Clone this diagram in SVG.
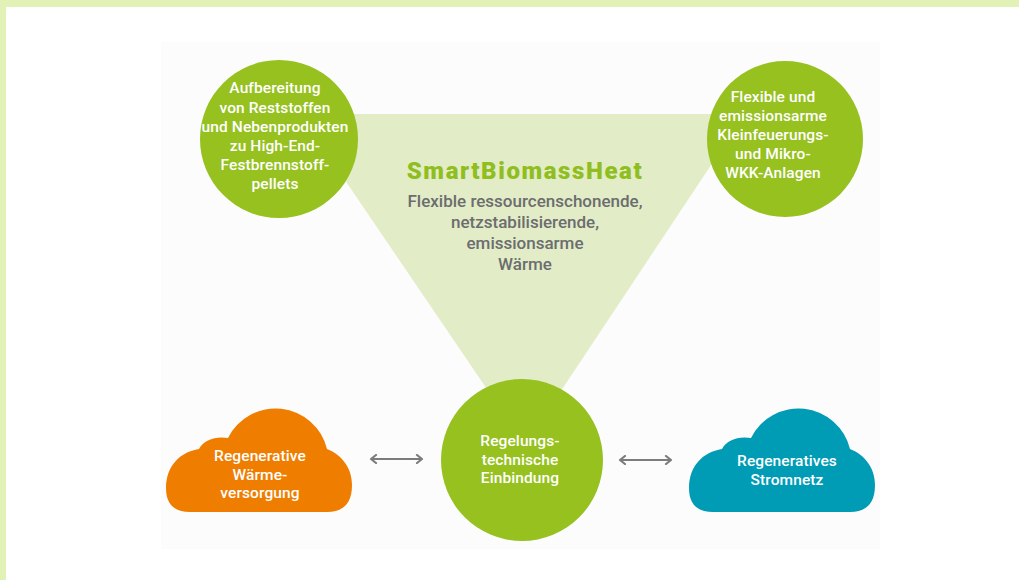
<svg xmlns="http://www.w3.org/2000/svg" width="1019" height="580" viewBox="0 0 1019 580">
  <style>
    .circle { fill: #96c11f; }
    .label { font-family: Roboto, "Liberation Sans", sans-serif; font-weight: 500; font-size: 15.5px; letter-spacing: 0.1px; fill: #ffffff; text-anchor: middle; }
    .title { font-family: Roboto, "Liberation Sans", sans-serif; font-weight: 900; font-size: 24px; letter-spacing: 1.6px; fill: #8fbe1e; text-anchor: middle; }
    .sub { font-family: Roboto, "Liberation Sans", sans-serif; font-weight: 500; font-size: 17px; fill: #6b6d6f; text-anchor: middle; }
    .link { stroke: #7b7c7e; stroke-width: 2.2; fill: none; marker-start: url(#chev-start); marker-end: url(#chev-end); }
  </style>
  <defs>
    <marker id="chev-end" viewBox="0 0 10 10" refX="8" refY="5" markerWidth="10" markerHeight="10" markerUnits="userSpaceOnUse" orient="auto">
      <path d="M 3 1 L 8 5 L 3 9" fill="none" stroke="#7b7c7e" stroke-width="2.2" stroke-linecap="round" stroke-linejoin="round"/>
    </marker>
    <marker id="chev-start" viewBox="0 0 10 10" refX="2" refY="5" markerWidth="10" markerHeight="10" markerUnits="userSpaceOnUse" orient="auto">
      <path d="M 7 1 L 2 5 L 7 9" fill="none" stroke="#7b7c7e" stroke-width="2.2" stroke-linecap="round" stroke-linejoin="round"/>
    </marker>
    <!-- cloud outline: shoulder, small bump, large bump, right lobe, flat base -->
    <path id="cloud" d="M 190 512 Q 166 512 166 488 C 166 466 180 452 199 449 C 204 440 215 436 228 438 A 53 53 0 0 1 327 449 C 342 455 352 468 352 485 Q 352 512 327 512 Z"/>
  </defs>

  <!-- page frame -->
  <rect x="0" y="0" width="1019" height="580" fill="#ffffff"/>
  <rect x="0" y="0" width="1019" height="7" fill="#e2f1b5"/>
  <rect x="0" y="0" width="6" height="580" fill="#e2f1b5"/>
  <rect x="161" y="42" width="719" height="507" fill="#fcfcfc"/>

  <!-- central triangle -->
  <g id="triangle">
    <polygon points="300,114 745,114 525,445" fill="#e2ecc6"/>
    <text class="title" x="525" y="179">SmartBiomassHeat</text>
    <text class="sub" x="525" y="207">Flexible ressourcenschonende,</text>
    <text class="sub" x="525" y="228">netzstabilisierende,</text>
    <text class="sub" x="525" y="249">emissionsarme</text>
    <text class="sub" x="525" y="270">Wärme</text>
  </g>

  <!-- connectors -->
  <g id="connectors">
    <line class="link" x1="371" y1="459" x2="422" y2="459"/>
    <line class="link" x1="620" y1="460" x2="671" y2="460"/>
  </g>

  <g id="node-pellets">
    <circle class="circle" cx="279" cy="139" r="79"/>
    <text class="label" x="275" y="93">Aufbereitung</text>
    <text class="label" x="275" y="112.5">von Reststoffen</text>
    <text class="label" x="275" y="131.5">und Nebenprodukten</text>
    <text class="label" x="275" y="151">zu High-End-</text>
    <text class="label" x="275" y="170">Festbrennstoff-</text>
    <text class="label" x="275" y="189">pellets</text>
  </g>

  <g id="node-kleinfeuerung">
    <circle class="circle" cx="785" cy="139" r="78"/>
    <text class="label" x="773" y="102">Flexible und</text>
    <text class="label" x="773" y="121">emissionsarme</text>
    <text class="label" x="773" y="140">Kleinfeuerungs-</text>
    <text class="label" x="773" y="159">und Mikro-</text>
    <text class="label" x="773" y="178">WKK-Anlagen</text>
  </g>

  <g id="node-regelung">
    <circle class="circle" cx="522" cy="460" r="81"/>
    <text class="label" x="520" y="446">Regelungs-</text>
    <text class="label" x="520" y="465">technische</text>
    <text class="label" x="520" y="483">Einbindung</text>
  </g>

  <g id="node-waerme">
    <use href="#cloud" fill="#ef7d00"/>
    <text class="label" x="260" y="461">Regenerative</text>
    <text class="label" x="260" y="480">Wärme-</text>
    <text class="label" x="260" y="498">versorgung</text>
  </g>

  <g id="node-strom">
    <use href="#cloud" transform="translate(523,0)" fill="#009bb4"/>
    <text class="label" x="787" y="466">Regeneratives</text>
    <text class="label" x="787" y="485">Stromnetz</text>
  </g>
</svg>
